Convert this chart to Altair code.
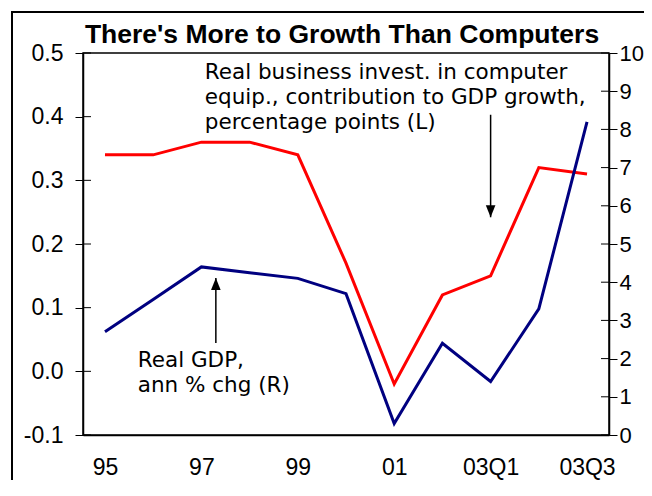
import json
import altair as alt
import pandas as pd

# ---- data ----
labels = ["95", "96", "97", "98", "99", "00", "01", "02", "03Q1", "03Q2", "03Q3"]
computer = [0.34, 0.34, 0.36, 0.36, 0.34, 0.17, -0.02, 0.12, 0.15, 0.32, 0.31]   # left axis
gdp = [2.7, 3.55, 4.4, 4.25, 4.1, 3.7, 0.3, 2.4, 1.4, 3.3, 8.2]                   # right axis
left_ticks = [-0.1, 0.0, 0.1, 0.2, 0.3, 0.4, 0.5]
right_ticks = [0, 1, 2, 3, 4, 5, 6, 7, 8, 9, 10]
x_label_idx = [0, 2, 4, 6, 8, 10]

title_text = "There's More to Growth Than Computers"
note_l = ["Real business invest. in computer",
          "equip., contribution to GDP growth,",
          "percentage points (L)"]
note_l_x = 2.07
note_l_y = [0.4592, 0.4199, 0.3806]
arrow_l = {"x": 8.0, "y_from": 0.403, "y_tip": 0.242}

note_r = ["Real GDP,", "ann % chg (R)"]
note_r_x = 0.68
note_r_y = [1.78, 1.126]
arrow_r = {"x": 2.3, "y_from": 2.41, "y_tip": 4.11}

df = pd.DataFrame({"i": list(range(len(labels))), "label": labels,
                   "computer": computer, "gdp": gdp})

W, H = 526, 382
FONT = "Liberation Sans, Arial, sans-serif"
NOTE_FONT = "DejaVu Sans, Verdana, sans-serif"
xscale = alt.Scale(domain=[-0.456, 10.456], nice=False, zero=False)
yl = alt.Scale(domain=[-0.1, 0.5], nice=False, zero=False)
yr = alt.Scale(domain=[0, 10], nice=False, zero=False)

x_axis = alt.Axis(values=x_label_idx, labelExpr=json.dumps(labels) + "[datum.value]",
                  ticks=False, grid=False, title=None, labelPadding=21,
                  domainColor="black", domainWidth=1.5, labelFont=FONT,
                  labelFontSize=23, labelColor="black")
left_axis = alt.Axis(values=left_ticks, format=".1f", grid=False, title=None,
                     tickSize=8, labelPadding=12, orient="left",
                     labelExpr="replace(datum.label, '\u2212', '-')",
                     domainColor="black", domainWidth=1.5, tickColor="black",
                     labelFont=FONT, labelFontSize=23, labelColor="black")
right_axis = alt.Axis(values=right_ticks, orient="right", grid=False, title=None,
                      tickSize=8, labelPadding=2,
                      domainColor="black", domainWidth=1.5, tickColor="black",
                      labelFont=FONT, labelFontSize=22, labelColor="black")

X = lambda f: alt.X(f, scale=xscale, axis=x_axis)
YL = lambda f: alt.Y(f, scale=yl, axis=left_axis)
YR = lambda f: alt.Y(f, scale=yr, axis=right_axis)

# ---------- left (red) layer ----------
red_line = alt.Chart(df).mark_line(color="#ff0000", strokeWidth=3).encode(
    x=X("i:Q"), y=YL("computer:Q"))

lt = alt.Chart(pd.DataFrame({"v": left_ticks})).mark_rule(color="black", strokeWidth=1).encode(
    x=alt.value(0), x2=alt.value(8), y=YL("v:Q"))

nl = pd.DataFrame({"t": note_l, "x": [note_l_x] * len(note_l), "y": note_l_y})
note_l_mark = alt.Chart(nl).mark_text(align="left", baseline="alphabetic", font=NOTE_FONT,
                                      fontSize=21.5, color="black").encode(
    x=X("x:Q"), y=YL("y:Q"), text="t:N")

al = pd.DataFrame([arrow_l])
arrow_l_rule = alt.Chart(al).mark_rule(color="black", strokeWidth=1.5).encode(
    x=X("x:Q"), y=YL("y_from:Q"), y2="y_tip:Q")
arrow_l_head = alt.Chart(al).mark_point(shape="M0,1L0.8,-1L-0.8,-1Z", size=144, filled=True,
                                        color="black", opacity=1, yOffset=-6).encode(
    x=X("x:Q"), y=YL("y_tip:Q"))

title_mark = alt.Chart(pd.DataFrame({"t": [title_text]})).mark_text(
    font=FONT, fontWeight="bold", fontSize=26.5, align="center", baseline="alphabetic",
    color="black").encode(x=alt.value(259), y=alt.value(-10), text="t:N")

# outer frame: left and top edges (right/bottom lie outside the picture)
frame_v = alt.Chart(pd.DataFrame({"a": [0]})).mark_rule(color="black", strokeWidth=2).encode(
    x=alt.value(-71), y=alt.value(-41), y2=alt.value(600))
frame_h = alt.Chart(pd.DataFrame({"a": [0]})).mark_rule(color="black", strokeWidth=2).encode(
    x=alt.value(-72), x2=alt.value(700), y=alt.value(-41))

left = alt.layer(frame_v, frame_h, title_mark, red_line, lt, note_l_mark,
                 arrow_l_rule, arrow_l_head)

# ---------- right (blue) layer ----------
blue_line = alt.Chart(df).mark_line(color="#000080", strokeWidth=3).encode(
    x=X("i:Q"), y=YR("gdp:Q"))

rt = alt.Chart(pd.DataFrame({"v": right_ticks})).mark_rule(color="black", strokeWidth=1).encode(
    x=alt.value(W - 8), x2=alt.value(W), y=YR("v:Q"))

nr = pd.DataFrame({"t": note_r, "x": [note_r_x] * len(note_r), "y": note_r_y})
note_r_mark = alt.Chart(nr).mark_text(align="left", baseline="alphabetic", font=NOTE_FONT,
                                      fontSize=21.5, color="black").encode(
    x=X("x:Q"), y=YR("y:Q"), text="t:N")

ar = pd.DataFrame([arrow_r])
arrow_r_rule = alt.Chart(ar).mark_rule(color="black", strokeWidth=1.5).encode(
    x=X("x:Q"), y=YR("y_from:Q"), y2="y_tip:Q")
arrow_r_head = alt.Chart(ar).mark_point(shape="M0,-1L0.8,1L-0.8,1Z", size=144, filled=True,
                                        color="black", opacity=1, yOffset=6).encode(
    x=X("x:Q"), y=YR("y_tip:Q"))

right = alt.layer(blue_line, rt, note_r_mark, arrow_r_rule, arrow_r_head)

chart = alt.layer(left, right).resolve_scale(y="independent").properties(
    width=W, height=H,
    autosize=alt.AutoSizeParams(type="none"),
    padding={"left": 75, "top": 45, "right": 35, "bottom": 45},
).configure(background="white").configure_view(stroke="black", strokeWidth=1.5)

chart.save("out.html", embed_options={"renderer": "svg", "actions": False})
